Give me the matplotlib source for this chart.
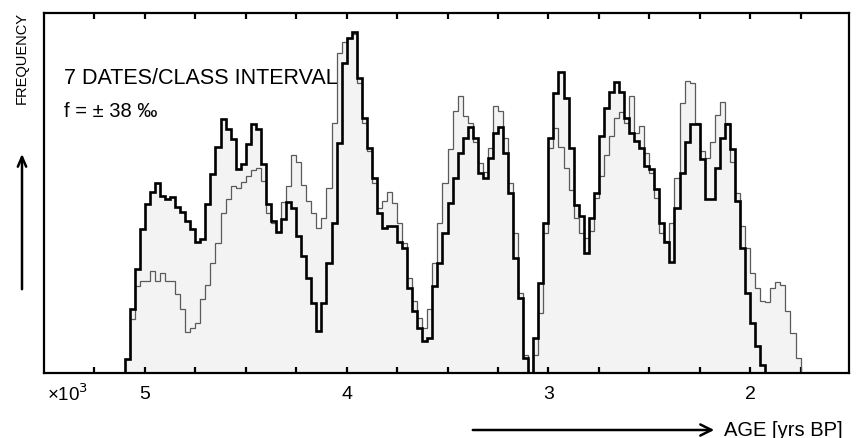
import matplotlib

matplotlib.use("Agg")

import matplotlib.pyplot as plt
import numpy as np

plt.rcParams["font.family"] = ["Liberation Sans", "DejaVu Sans"]

# class intervals: 25 yr wide, the first one starts at 5100 yrs BP (older edge)
BIN_START = 5100
BIN_WIDTH = 25

# thick curve, frequency per class interval (arbitrary units)
thick_freq = [
    14, 64, 104, 144, 169, 181, 190, 177, 174, 176,
    166, 161, 152, 144, 131, 134, 169, 199, 226, 254,
    244, 234, 204, 209, 229, 249, 244, 209, 169, 152,
    141, 154, 171, 165, 137, 117, 95, 70, 42, 70,
    110, 150, 230, 310, 335, 341, 295, 255, 225, 195,
    160, 145, 147, 147, 131, 125, 85, 62, 45, 32,
    35, 87, 110, 140, 170, 195, 220, 235, 246, 235,
    200, 195, 215, 240, 246, 220, 180, 115, 75, 15,
    0, 35, 90, 150, 235, 280, 301, 275, 225, 168,
    157, 120, 155, 180, 237, 265, 281, 291, 281, 255,
    240, 232, 225, 207, 204, 184, 150, 131, 111, 165,
    200, 231, 249, 249, 214, 174, 174, 205, 235, 249,
    224, 172, 125, 80, 50, 27, 8,
]

# thin curve
thin_freq = [
    14, 54, 87, 92, 92, 102, 92, 100, 92, 92,
    79, 64, 41, 45, 50, 74, 88, 110, 130, 160,
    174, 187, 185, 191, 197, 203, 205, 192, 160, 150,
    141, 171, 187, 218, 211, 188, 172, 160, 145, 155,
    185, 250, 320, 331, 335, 339, 290, 250, 222, 190,
    165, 172, 181, 170, 150, 130, 95, 72, 55, 45,
    64, 110, 150, 190, 224, 262, 277, 257, 250, 231,
    210, 201, 225, 267, 262, 235, 190, 140, 80, 18,
    0, 18, 60, 140, 225, 245, 226, 205, 183, 155,
    140, 135, 142, 175, 197, 218, 237, 255, 261, 250,
    277, 240, 247, 220, 200, 175, 140, 132, 150, 195,
    270, 292, 290, 250, 222, 215, 231, 258, 271, 250,
    211, 180, 147, 125, 100, 85, 72, 71, 85, 91,
    88, 62, 40, 15,
]

age_ticks = [5000, 4000, 3000, 2000]
age_tick_labels = ["5", "4", "3", "2"]


def class_edges(n: int) -> np.ndarray:
    return BIN_START - BIN_WIDTH * np.arange(n + 1)


def main() -> None:
    fig = plt.figure(figsize=(8.58, 4.39), dpi=100)
    ax = fig.add_axes([44 / 858, 65 / 439, 805 / 858, 360 / 439])

    thick = np.array(thick_freq, dtype=float)
    thin = np.array(thin_freq, dtype=float)
    thick_edges = class_edges(len(thick))
    thin_edges = class_edges(len(thin))

    # stippled area under the envelope of both curves
    n = max(len(thick), len(thin))
    envelope = np.maximum(np.pad(thick, (0, n - len(thick))), np.pad(thin, (0, n - len(thin))))
    ax.stairs(envelope, class_edges(n), fill=True, color="#f3f3f3", zorder=1)

    ax.stairs(thin, thin_edges, color="#5a5a5a", linewidth=0.9, zorder=2)
    ax.stairs(thick, thick_edges, color="black", linewidth=1.9, zorder=3)

    ax.set_xlim(5500, 1510)
    ax.set_ylim(0, 360)

    ax.set_xticks(age_ticks)
    ax.set_xticklabels(age_tick_labels, fontsize=14)
    ax.set_xticks(np.arange(5250, 1500, -250), minor=True)
    ax.set_yticks([])
    ax.tick_params(axis="x", which="both", direction="in", top=True, bottom=True,
                   length=4, width=1.6, pad=9)

    for spine in ax.spines.values():
        spine.set_linewidth(1.6)

    ax.text(0.025, 0.82, "7 DATES/CLASS INTERVAL", transform=ax.transAxes,
            fontsize=15.5, ha="left", va="center")
    ax.text(0.025, 0.728, "f = \u00b1 38 \u2030", transform=ax.transAxes,
            fontsize=14.5, ha="left", va="center")

    fig.text(47 / 858, 1 - 394 / 439, "\u00d710$^3$", fontsize=13.5, ha="left", va="center")
    fig.text(724 / 858, 1 - 431 / 439, "AGE [yrs BP]", fontsize=14.5, ha="left", va="center")
    fig.text(22 / 858, 1 - 58 / 439, "FREQUENCY", fontsize=10.5, rotation=90,
             ha="center", va="center")

    fig.patches.append(matplotlib.patches.FancyArrowPatch(
        (470 / 858, 1 - 431 / 439), (717 / 858, 1 - 431 / 439),
        transform=fig.transFigure, arrowstyle="->,head_length=8,head_width=4",
        linewidth=1.8, color="black"))
    fig.patches.append(matplotlib.patches.FancyArrowPatch(
        (22 / 858, 1 - 293 / 439), (22 / 858, 1 - 152 / 439),
        transform=fig.transFigure, arrowstyle="->,head_length=7,head_width=3",
        linewidth=1.8, color="black"))

    fig.savefig("out.png", dpi=100)
    plt.close(fig)


if __name__ == "__main__":
    main()
